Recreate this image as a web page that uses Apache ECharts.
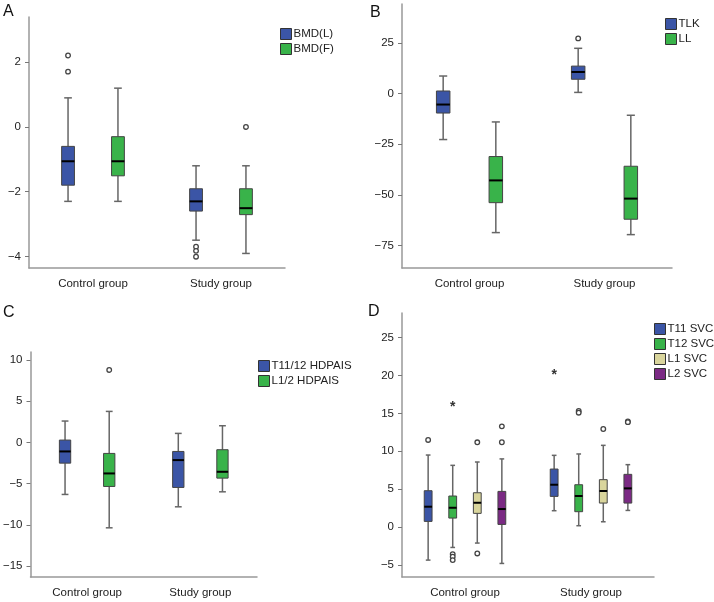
<!DOCTYPE html>
<html>
<head>
<meta charset="utf-8">
<script src="https://cdn.jsdelivr.net/npm/echarts@6/dist/echarts.min.js"></script>
<style>
  html, body { margin: 0; padding: 0; background: #fff; }
  #chart { width: 714px; height: 602px; }
</style>
</head>
<body>
<div id="chart"></div>
<script>
// x categories shared by all four panels
const groups = ['Control group', 'Study group'];

// each box: [min whisker, Q1, median, Q3, max whisker], one per group
// A
const bmdL = [[-2.30, -1.80, -1.06, -0.60, 0.90], [-3.50, -2.60, -2.30, -1.91, -1.20]];
const bmdF = [[-2.30, -1.51, -1.06, -0.30, 1.20], [-3.91, -2.71, -2.51, -1.91, -1.20]];
const bmdLOut = [[0, 2.21], [0, 1.71], [1, -3.70], [1, -3.83], [1, -4.01]];
const bmdFOut = [[1, 0.0]];
// B
const tlk = [[-22.7, -9.6, -5.4, 1.3, 8.7], [0.6, 7.1, 10.7, 13.6, 22.4]];
const ll = [[-68.7, -53.9, -42.9, -31.1, -14.0], [-69.7, -62.1, -51.9, -35.9, -10.7]];
const tlkOut = [[1, 27.3]];
// C
const hd1112 = [[-6.32, -2.52, -1.10, 0.28, 2.59], [-7.82, -5.47, -2.15, -1.10, 1.09]];
const hd12 = [[-10.37, -5.35, -3.77, -1.34, 3.76], [-6.00, -4.34, -3.57, -0.89, 2.02]];
const hd12Out = [[0, 8.79]];
// D
const svcT11 = [[-4.36, 0.75, 2.69, 4.80, 9.51], [2.16, 4.05, 5.59, 7.66, 9.47]];
const svcT12 = [[-2.69, 1.19, 2.55, 4.10, 8.15], [0.18, 2.03, 4.10, 5.59, 9.65]];
const svcL1 = [[-2.11, 1.81, 3.21, 4.53, 8.59], [0.70, 3.17, 4.76, 6.26, 10.79]];
const svcL2 = [[-4.80, 0.35, 2.38, 4.71, 9.00], [2.20, 3.17, 5.11, 6.96, 8.24]];
const svcT11Out = [[0, 11.5]];
const svcT12Out = [[0, -3.57], [0, -3.92], [0, -4.36], [1, 15.33], [1, 15.10]];
const svcL1Out = [[0, 11.19], [0, -3.48], [1, 12.95]];
const svcL2Out = [[0, 13.3], [0, 11.2], [1, 13.95], [1, 13.85]];
const svcT11Ext = [[1, 20.5]];
const svcT12Ext = [[0, 16.2]];

// y tick labels
const ticksA = [-4, -2, 0, 2];
const ticksB = [-75, -50, -25, 0, 25];
const ticksC = [-15, -10, -5, 0, 5, 10];
const ticksD = [-5, 0, 5, 10, 15, 20, 25];

const BLUE = '#3b55a6', GREEN = '#39b34a', TAN = '#d9d59c', PURPLE = '#7b2a84';

const panels = [
  { letter: 'A', names: ['BMD(L)', 'BMD(F)'], colors: [BLUE, GREEN],
    boxes: [bmdL, bmdF], outliers: [bmdLOut, bmdFOut], extremes: [[], []],
    grid: { left: 29, top: 17, width: 256, height: 251 }, y: [-4.36, 3.40], ticks: ticksA,
    title: { left: 3, top: 4 }, legend: { left: 280, top: 28 } },
  { letter: 'B', names: ['TLK', 'LL'], colors: [BLUE, GREEN],
    boxes: [tlk, ll], outliers: [tlkOut, []], extremes: [[], []],
    grid: { left: 402, top: 4, width: 270, height: 264 }, y: [-86.2, 44.3], ticks: ticksB,
    title: { left: 370, top: 5 }, legend: { left: 665, top: 18 } },
  { letter: 'C', names: ['T11/12 HDPAIS', 'L1/2 HDPAIS'], colors: [BLUE, GREEN],
    boxes: [hd1112, hd12], outliers: [[], hd12Out], extremes: [[], []],
    grid: { left: 29, top: 352, width: 228, height: 225 }, y: [-16.34, 10.97], ticks: ticksC,
    title: { left: 3, top: 305 }, legend: { left: 258, top: 360 } },
  { letter: 'D', names: ['T11 SVC', 'T12 SVC', 'L1 SVC', 'L2 SVC'], colors: [BLUE, GREEN, TAN, PURPLE],
    boxes: [svcT11, svcT12, svcL1, svcL2], outliers: [svcT11Out, svcT12Out, svcL1Out, svcL2Out],
    extremes: [svcT11Ext, svcT12Ext, [], []],
    grid: { left: 402, top: 313, width: 252, height: 264 }, y: [-6.59, 28.26], ticks: ticksD,
    title: { left: 368, top: 304 }, legend: { left: 654, top: 323 } }
];

// SPSS-style placement: the cluster takes 78% of the band
function shiftOf(k, n) {
  return ((k + 0.5) / n - 0.5) * 0.78;
}

function boxRender(k, n) {
  const shift = shiftOf(k, n);
  const wFrac = n > 2 ? 0.062 : 0.1;
  return function (params, api) {
    const cat = api.value(0);
    const band = api.size([1, 0])[0];
    const cx = api.coord([cat, 0])[0] + shift * band;
    const w = band * wFrac;
    const y = i => api.coord([cat, api.value(i)])[1];
    const yMin = y(1), yQ1 = y(2), yMed = y(3), yQ3 = y(4), yMax = y(5);
    const cap = w * 0.6;
    const whisker = { stroke: '#666', lineWidth: 1.5 };
    return {
      type: 'group',
      children: [
        { type: 'line', shape: { x1: cx, y1: yMax, x2: cx, y2: yQ3 }, style: whisker },
        { type: 'line', shape: { x1: cx, y1: yQ1, x2: cx, y2: yMin }, style: whisker },
        { type: 'line', shape: { x1: cx - cap / 2, y1: yMax, x2: cx + cap / 2, y2: yMax }, style: whisker },
        { type: 'line', shape: { x1: cx - cap / 2, y1: yMin, x2: cx + cap / 2, y2: yMin }, style: whisker },
        { type: 'rect', shape: { x: cx - w / 2, y: yQ3, width: w, height: yQ1 - yQ3 },
          style: { fill: api.visual('color'), stroke: '#444', lineWidth: 1 } },
        { type: 'line', shape: { x1: cx - w / 2, y1: yMed, x2: cx + w / 2, y2: yMed },
          style: { stroke: '#000', lineWidth: 2 } }
      ]
    };
  };
}

function markRender(k, n, star) {
  const shift = shiftOf(k, n);
  return function (params, api) {
    const cat = api.value(0);
    const band = api.size([1, 0])[0];
    const p = api.coord([cat, api.value(1)]);
    const x = p[0] + shift * band;
    if (star) {
      return { type: 'text', style: { text: '*', x: x, y: p[1] + 3, align: 'center',
        verticalAlign: 'middle', font: 'bold 14px "Liberation Sans", Arial', fill: '#333' } };
    }
    return { type: 'circle', shape: { cx: x, cy: p[1], r: 2.3 },
      style: { fill: '#fff', stroke: '#444', lineWidth: 1.3 } };
  };
}

const FONT = '"Liberation Sans", Arial, sans-serif';
const grids = [], xAxes = [], yAxes = [], titles = [], legends = [], series = [];

panels.forEach((p, pi) => {
  grids.push(p.grid);
  titles.push({ text: p.letter, left: p.title.left, top: p.title.top, padding: 0,
    textStyle: { fontSize: 16, fontWeight: 'normal', color: '#111', fontFamily: FONT } });
  legends.push({ data: p.names, orient: 'vertical', left: p.legend.left, top: p.legend.top,
    padding: 0, itemGap: 3, itemWidth: 11, itemHeight: 11, icon: 'rect',
    itemStyle: { borderColor: '#333', borderWidth: 1 },
    textStyle: { fontSize: 11.5, color: '#222', fontFamily: FONT, padding: [0, 0, 0, -3] } });
  xAxes.push({
    type: 'category', gridIndex: pi, data: groups,
    axisLine: { onZero: false, lineStyle: { color: '#999', width: 1.5 } },
    axisTick: { alignWithLabel: true, length: 4, lineStyle: { color: '#777' } },
    axisLabel: { margin: 10, fontSize: 11.5, color: '#222', fontFamily: FONT }
  });
  yAxes.push({
    type: 'value', gridIndex: pi, min: p.y[0], max: p.y[1],
    splitLine: { show: false },
    axisLine: { show: true, lineStyle: { color: '#999', width: 1.5 } },
    axisTick: { show: true, length: 4, customValues: p.ticks, lineStyle: { color: '#777' } },
    axisLabel: { margin: 8, fontSize: 11.5, color: '#222', fontFamily: FONT,
      customValues: p.ticks, formatter: v => String(v).replace('-', '\u2212') }
  });
  const n = p.names.length;
  p.names.forEach((name, k) => {
    series.push({
      type: 'custom', name: name, xAxisIndex: pi, yAxisIndex: pi,
      itemStyle: { color: p.colors[k] },
      renderItem: boxRender(k, n),
      encode: { x: 0, y: [1, 2, 3, 4, 5] },
      data: p.boxes[k].map((b, i) => [i].concat(b))
    });
    if (p.outliers[k].length) {
      series.push({
        type: 'custom', name: name + ' outliers', xAxisIndex: pi, yAxisIndex: pi,
        renderItem: markRender(k, n, false), encode: { x: 0, y: 1 }, data: p.outliers[k]
      });
    }
    if (p.extremes[k].length) {
      series.push({
        type: 'custom', name: name + ' extremes', xAxisIndex: pi, yAxisIndex: pi,
        renderItem: markRender(k, n, true), encode: { x: 0, y: 1 }, data: p.extremes[k]
      });
    }
  });
});

const chart = echarts.init(document.getElementById('chart'));
chart.setOption({
  animation: false,
  backgroundColor: '#fff',
  title: titles,
  legend: legends,
  grid: grids,
  xAxis: xAxes,
  yAxis: yAxes,
  series: series
});
</script>
</body>
</html>
